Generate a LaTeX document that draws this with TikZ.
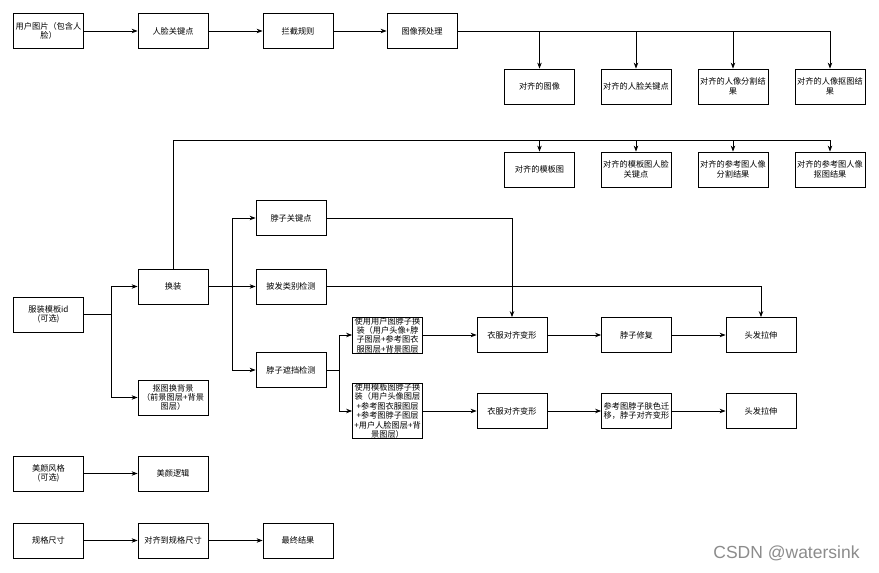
\documentclass[tikz,border=0pt]{standalone}
\usepackage{fontspec}
\setmainfont{Noto Sans CJK SC}
\newfontfamily\wmfont{Liberation Sans}
\usetikzlibrary{arrows.meta}
\begin{document}
\begin{tikzpicture}[x=1pt,y=-1pt,
  box/.style={draw=black,line width=0.8pt,minimum width=70pt,minimum height=35pt,inner sep=0pt,
    text width=69pt,align=center,font=\fontsize{8.2}{9.4}\selectfont},
  conn/.style={draw=black,line width=0.8pt},
  arr/.style={conn,-{Stealth[length=6pt,width=4.5pt]}}]
\useasboundingbox[fill=white] (0,0) rectangle (879,573);
% top row
\node[box] (u1) at (48.5,31) {用户图片（包含人\\脸）};
\node[box] (u2) at (173,31) {人脸关键点};
\node[box] (u3) at (298,31) {拦截规则};
\node[box] (u4) at (422,31) {图像预处理};
\node[box] (a1) at (539.5,86.5) {对齐的图像};
\node[box] (a2) at (636,86.5) {对齐的人脸关键点};
\node[box] (a3) at (733,86.5) {对齐的人像分割结\\果};
\node[box] (a4) at (830,86.5) {对齐的人像抠图结\\果};
\node[box] (b1) at (539.5,169.5) {对齐的模板图};
\node[box] (b2) at (636,169.5) {对齐的模板图人脸\\关键点};
\node[box] (b3) at (733,169.5) {对齐的参考图人像\\分割结果};
\node[box] (b4) at (830,169.5) {对齐的参考图人像\\抠图结果};
% clothes
\node[box] (f1) at (48.5,314.5) {服装模板id\\(可选)};
\node[box] (hz) at (173,286.5) {换装};
\node[box] (kt) at (173,397.5) {抠图换背景\\（前景图层+背景\\图层）};
\node[box] (n1) at (291,218) {脖子关键点};
\node[box] (n2) at (291,286.5) {披发类别检测};
\node[box] (n3) at (291,370) {脖子遮挡检测};
\node[box] (c1) at (387.5,335) {使用用户图脖子换\\装（用户头像+脖\\子图层+参考图衣\\服图层+背景图层};
\node[box] (c2) at (512,335) {衣服对齐变形};
\node[box] (c3) at (636.5,335) {脖子修复};
\node[box] (c4) at (761,335) {头发拉伸};
\node[box] (d1) at (387.5,411) {使用模板图脖子换\\装（用户头像图层\\+参考图衣服图层\\+参考图脖子图层\\+用户人脸图层+背\\景图层）};
\node[box] (d2) at (512,411) {衣服对齐变形};
\node[box] (d3) at (636.5,411) {参考图脖子肤色迁\\移，脖子对齐变形};
\node[box] (d4) at (761,411) {头发拉伸};
% beauty and size
\node[box] (m1) at (48.5,473.5) {美颜风格\\(可选)};
\node[box] (m2) at (173,473.5) {美颜逻辑};
\node[box] (s1) at (48.5,540.5) {规格尺寸};
\node[box] (s2) at (173,540.5) {对齐到规格尺寸};
\node[box] (s3) at (298,540.5) {最终结果};
\node[text=black!45,font=\wmfont\fontsize{17.5}{20}\selectfont,inner sep=0pt] (wm) at (786.5,553) {CSDN @watersink};
% connectors
\draw[arr] (u1) -- (u2);
\draw[arr] (u2) -- (u3);
\draw[arr] (u3) -- (u4);
\foreach \t in {a1,a2,a3,a4} \draw[arr] (u4.east) -| (\t.north);
\coordinate (hztop) at (173,140);
\draw[conn] (hz.north) -- (hztop);
\foreach \t in {b1,b2,b3,b4} \draw[arr] (hztop) -| (\t.north);
\coordinate (fj) at (111,314.5);
\draw[conn] (f1.east) -- (fj);
\draw[arr] (fj) |- (hz.west);
\draw[arr] (fj) |- (kt.west);
\coordinate (hj) at (232,286.5);
\draw[conn] (hz.east) -- (hj);
\draw[arr] (hj) |- (n1.west);
\draw[arr] (hj) -- (n2.west);
\draw[arr] (hj) |- (n3.west);
\draw[arr] (n1.east) -| (c2.north);
\draw[arr] (n2.east) -| (c4.north);
\coordinate (nj) at (339,370);
\draw[conn] (n3.east) -- (nj);
\draw[arr] (nj) |- (c1.west);
\draw[arr] (nj) |- (d1.west);
\draw[arr] (c1) -- (c2);
\draw[arr] (c2) -- (c3);
\draw[arr] (c3) -- (c4);
\draw[arr] (d1) -- (d2);
\draw[arr] (d2) -- (d3);
\draw[arr] (d3) -- (d4);
\draw[arr] (m1) -- (m2);
\draw[arr] (s1) -- (s2);
\draw[arr] (s2) -- (s3);
\end{tikzpicture}
\end{document}
